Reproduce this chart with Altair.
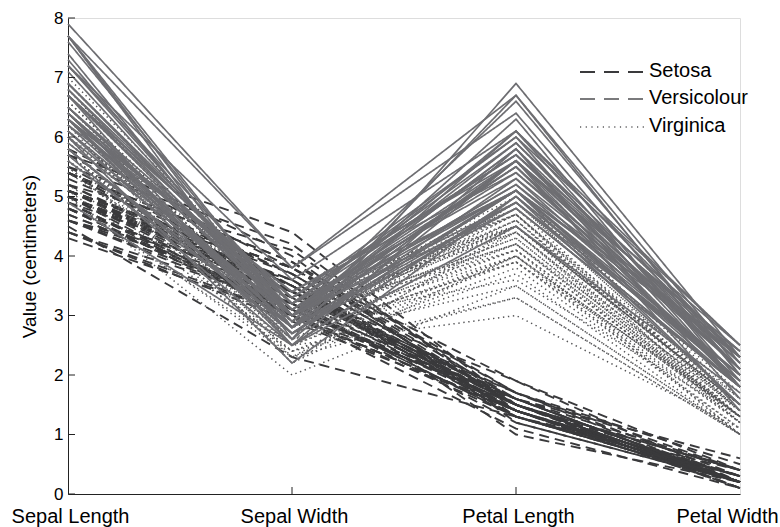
import altair as alt
import pandas as pd

dimensions = ["Sepal Length", "Sepal Width", "Petal Length", "Petal Width"]

setosa = [
    [5.1,3.5,1.4,0.2],[4.9,3.0,1.4,0.2],[4.7,3.2,1.3,0.2],[4.6,3.1,1.5,0.2],[5.0,3.6,1.4,0.2],
    [5.4,3.9,1.7,0.4],[4.6,3.4,1.4,0.3],[5.0,3.4,1.5,0.2],[4.4,2.9,1.4,0.2],[4.9,3.1,1.5,0.1],
    [5.4,3.7,1.5,0.2],[4.8,3.4,1.6,0.2],[4.8,3.0,1.4,0.1],[4.3,3.0,1.1,0.1],[5.8,4.0,1.2,0.2],
    [5.7,4.4,1.5,0.4],[5.4,3.9,1.3,0.4],[5.1,3.5,1.4,0.3],[5.7,3.8,1.7,0.3],[5.1,3.8,1.5,0.3],
    [5.4,3.4,1.7,0.2],[5.1,3.7,1.5,0.4],[4.6,3.6,1.0,0.2],[5.1,3.3,1.7,0.5],[4.8,3.4,1.9,0.2],
    [5.0,3.0,1.6,0.2],[5.0,3.4,1.6,0.4],[5.2,3.5,1.5,0.2],[5.2,3.4,1.4,0.2],[4.7,3.2,1.6,0.2],
    [4.8,3.1,1.6,0.2],[5.4,3.4,1.5,0.4],[5.2,4.1,1.5,0.1],[5.5,4.2,1.4,0.2],[4.9,3.1,1.5,0.2],
    [5.0,3.2,1.2,0.2],[5.5,3.5,1.3,0.2],[4.9,3.6,1.4,0.1],[4.4,3.0,1.3,0.2],[5.1,3.4,1.5,0.2],
    [5.0,3.5,1.3,0.3],[4.5,2.3,1.3,0.3],[4.4,3.2,1.3,0.2],[5.0,3.5,1.6,0.6],[5.1,3.8,1.9,0.4],
    [4.8,3.0,1.4,0.3],[5.1,3.8,1.6,0.2],[4.6,3.2,1.4,0.2],[5.3,3.7,1.5,0.2],[5.0,3.3,1.4,0.2],
]

versicolour = [
    [7.0,3.2,4.7,1.4],[6.4,3.2,4.5,1.5],[6.9,3.1,4.9,1.5],[5.5,2.3,4.0,1.3],[6.5,2.8,4.6,1.5],
    [5.7,2.8,4.5,1.3],[6.3,3.3,4.7,1.6],[4.9,2.4,3.3,1.0],[6.6,2.9,4.6,1.3],[5.2,2.7,3.9,1.4],
    [5.0,2.0,3.5,1.0],[5.9,3.0,4.2,1.5],[6.0,2.2,4.0,1.0],[6.1,2.9,4.7,1.4],[5.6,2.9,3.6,1.3],
    [6.7,3.1,4.4,1.4],[5.6,3.0,4.5,1.5],[5.8,2.7,4.1,1.0],[6.2,2.2,4.5,1.5],[5.6,2.5,3.9,1.1],
    [5.9,3.2,4.8,1.8],[6.1,2.8,4.0,1.3],[6.3,2.5,4.9,1.5],[6.1,2.8,4.7,1.2],[6.4,2.9,4.3,1.3],
    [6.6,3.0,4.4,1.4],[6.8,2.8,4.8,1.4],[6.7,3.0,5.0,1.7],[6.0,2.9,4.5,1.5],[5.7,2.6,3.5,1.0],
    [5.5,2.4,3.8,1.1],[5.5,2.4,3.7,1.0],[5.8,2.7,3.9,1.2],[6.0,2.7,5.1,1.6],[5.4,3.0,4.5,1.5],
    [6.0,3.4,4.5,1.6],[6.7,3.1,4.7,1.5],[6.3,2.3,4.4,1.3],[5.6,3.0,4.1,1.3],[5.5,2.5,4.0,1.3],
    [5.5,2.6,4.4,1.2],[6.1,3.0,4.6,1.4],[5.8,2.6,4.0,1.2],[5.0,2.3,3.3,1.0],[5.6,2.7,4.2,1.3],
    [5.7,3.0,4.2,1.2],[5.7,2.9,4.2,1.3],[6.2,2.9,4.3,1.3],[5.1,2.5,3.0,1.1],[5.7,2.8,4.1,1.3],
]

virginica = [
    [6.3,3.3,6.0,2.5],[5.8,2.7,5.1,1.9],[7.1,3.0,5.9,2.1],[6.3,2.9,5.6,1.8],[6.5,3.0,5.8,2.2],
    [7.6,3.0,6.6,2.1],[4.9,2.5,4.5,1.7],[7.3,2.9,6.3,1.8],[6.7,2.5,5.8,1.8],[7.2,3.6,6.1,2.5],
    [6.5,3.2,5.1,2.0],[6.4,2.7,5.3,1.9],[6.8,3.0,5.5,2.1],[5.7,2.5,5.0,2.0],[5.8,2.8,5.1,2.4],
    [6.4,3.2,5.3,2.3],[6.5,3.0,5.5,1.8],[7.7,3.8,6.7,2.2],[7.7,2.6,6.9,2.3],[6.0,2.2,5.0,1.5],
    [6.9,3.2,5.7,2.3],[5.6,2.8,4.9,2.0],[7.7,2.8,6.7,2.0],[6.3,2.7,4.9,1.8],[6.7,3.3,5.7,2.1],
    [7.2,3.2,6.0,1.8],[6.2,2.8,4.8,1.8],[6.1,3.0,4.9,1.8],[6.4,2.8,5.6,2.1],[7.2,3.0,5.8,1.6],
    [7.4,2.8,6.1,1.9],[7.9,3.8,6.4,2.0],[6.4,2.8,5.6,2.2],[6.3,2.8,5.1,1.5],[6.1,2.6,5.6,1.4],
    [7.7,3.0,6.1,2.3],[6.3,3.4,5.6,2.4],[6.4,3.1,5.5,1.8],[6.0,3.0,4.8,1.8],[6.9,3.1,5.4,2.1],
    [6.7,3.1,5.6,2.4],[6.9,3.1,5.1,2.3],[5.8,2.7,5.1,1.9],[6.8,3.2,5.9,2.3],[6.7,3.3,5.7,2.5],
    [6.7,3.0,5.2,2.3],[6.3,2.5,5.0,1.9],[6.5,3.0,5.2,2.0],[6.2,3.4,5.4,2.3],[5.9,3.0,5.1,1.8],
]

species_names = ["Setosa", "Versicolour", "Virginica"]
y_ticks = [0, 1, 2, 3, 4, 5, 6, 7, 8]

rows = []
for sp, group in zip(species_names, [setosa, versicolour, virginica]):
    for i, rec in enumerate(group):
        for d, v in zip(dimensions, rec):
            rows.append({"id": f"{sp}{i}", "species": sp, "dimension": d, "value": v})
df = pd.DataFrame(rows)

FONT = "Liberation Sans"
W, H = 672, 476

xenc = alt.X("dimension:N", sort=dimensions,
             scale=alt.Scale(type="point", padding=0, domain=dimensions),
             axis=alt.Axis(title=None, ticks=False, labelAngle=0, labelFontSize=20,
                           labelFont=FONT, labelColor="#000", labelPadding=12,
                           labelOverlap=False, labelBound=False, labelFlush=False,
                           labelOffset={"condition": {"test": "datum.label == 'Petal Width'",
                                                      "value": -13},
                                        "value": 2},
                           domainColor="#222", domainWidth=1, grid=False))
yenc = alt.Y("value:Q", scale=alt.Scale(domain=[0, 8], nice=False),
             axis=alt.Axis(title="Value (centimeters)", values=y_ticks, format="d", ticks=False,
                           labelFontSize=17, labelFont=FONT, labelColor="#000", labelPadding=5,
                           titleFont=FONT, titleFontSize=19, titleFontWeight="normal",
                           titleColor="#000", titlePadding=14, domainColor="#222",
                           domainWidth=1, grid=False))

base = alt.Chart(df)

styles = {
    "Setosa": dict(color="#3a3a3c", dash=[10, 6], width=1.9),
    "Versicolour": dict(color="#555557", dash=[1.4, 3.6], width=1.5),
    "Virginica": dict(color="#6e6e72", dash=[1, 0], width=1.7),
}

layers = []
for sp in species_names:
    st = styles[sp]
    layers.append(
        base.transform_filter(alt.datum.species == sp)
        .mark_line(strokeDash=st["dash"], strokeWidth=st["width"], color=st["color"])
        .encode(x=xenc, y=yenc, detail="id:N")
    )

ytick_df = pd.DataFrame({"value": y_ticks})
ytick_layer = alt.Chart(ytick_df).mark_rule(color="#222", strokeWidth=1).encode(
    y=alt.Y("value:Q"), x=alt.value(0), x2=alt.value(7))

xtick_df = pd.DataFrame({"dimension": dimensions[1:3]})
xtick_layer = alt.Chart(xtick_df).mark_rule(color="#222", strokeWidth=1).encode(
    x=alt.X("dimension:N", sort=dimensions), y=alt.value(H), y2=alt.value(H - 7))

# legend (drawn as in the reference)
legend_colors = ["#3a3a3c", "#7a7a7c", "#5c5c5e"]
legend_dashes = [[15, 9], [15, 9], [1.2, 4.5]]
legend_y = [54, 81, 109]
legend_layers = []
for name, c, dsh, ly in zip(species_names, legend_colors, legend_dashes, legend_y):
    legend_layers.append(
        alt.Chart(pd.DataFrame({"label": [name]})).mark_rule(
            color=c, strokeDash=dsh, strokeWidth=1.9 if dsh[0] > 2 else 1.3
        ).encode(x=alt.value(512), x2=alt.value(580), y=alt.value(ly))
    )
    legend_layers.append(
        alt.Chart(pd.DataFrame({"label": [name]})).mark_text(
            align="left", baseline="middle", font=FONT, fontSize=20, color="#000"
        ).encode(text="label:N", x=alt.value(581), y=alt.value(ly - 1))
    )

chart = alt.layer(*layers, ytick_layer, xtick_layer, *legend_layers).properties(
    width=W, height=H,
    autosize=alt.AutoSizeParams(type="none"),
    padding={"left": 68, "top": 18, "right": 40, "bottom": 33},
).configure_view(stroke=None).configure(background="white")

chart.save("out.html", embed_options={"renderer": "svg", "actions": False})
